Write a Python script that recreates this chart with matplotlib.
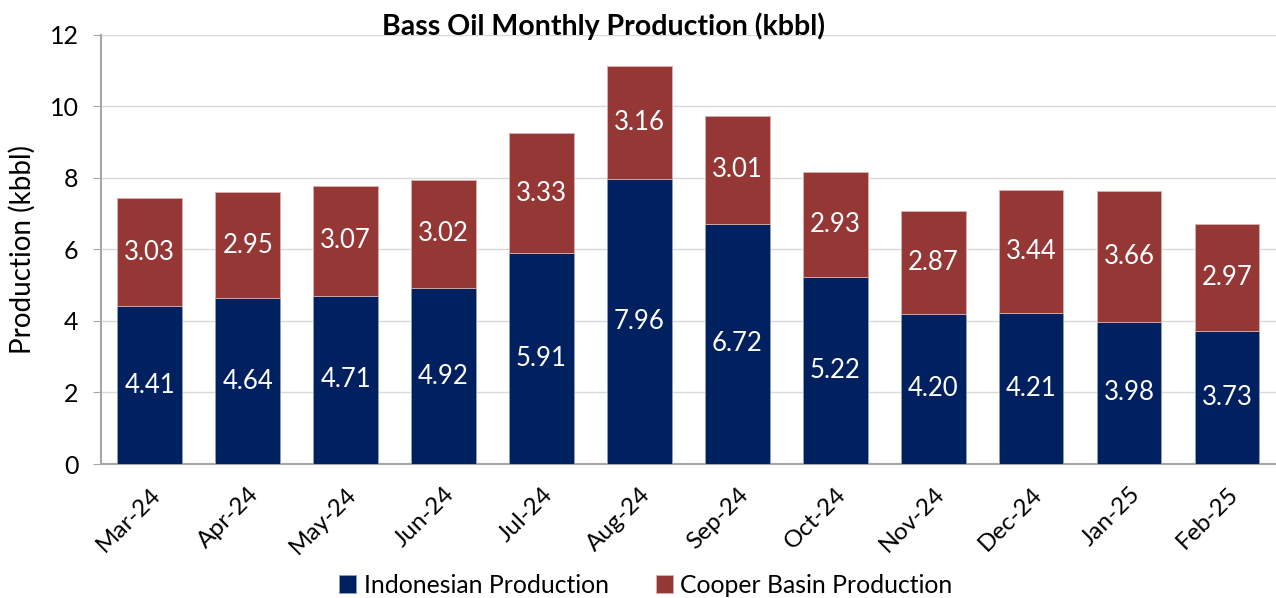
import numpy as np
import matplotlib.pyplot as plt

months = ["Mar-24", "Apr-24", "May-24", "Jun-24", "Jul-24", "Aug-24",
          "Sep-24", "Oct-24", "Nov-24", "Dec-24", "Jan-25", "Feb-25"]
indonesian = [4.41, 4.64, 4.71, 4.92, 5.91, 7.96, 6.72, 5.22, 4.20, 4.21, 3.98, 3.73]
cooper = [3.03, 2.95, 3.07, 3.02, 3.33, 3.16, 3.01, 2.93, 2.87, 3.44, 3.66, 2.97]

NAVY = "#002060"
RED = "#953735"

plt.rcParams['font.family'] = ['Lato', 'DejaVu Sans']

fig = plt.figure(figsize=(12.76, 5.98), dpi=100)
ax = fig.add_axes([0.079, 0.224, 0.921, 0.718])

x = np.arange(len(months))
b1 = ax.bar(x, indonesian, width=0.66, color=NAVY, edgecolor="#8ea0c0", linewidth=0.6, zorder=3,
            label="Indonesian Production")
b2 = ax.bar(x, cooper, width=0.66, bottom=indonesian, color=RED, edgecolor="#d9b0b0", linewidth=0.6,
            zorder=3, label="Cooper Basin Production")
ax.bar_label(b1, labels=[f"{v:.2f}" for v in indonesian], label_type="center", color="white", fontsize=18.5)
ax.bar_label(b2, labels=[f"{v:.2f}" for v in cooper], label_type="center", color="white", fontsize=18.5)

ax.set_xlim(-0.5, 11.5)
ax.set_ylim(0, 12)
ax.set_yticks(range(0, 13, 2))
ax.set_xticks(x)
ax.set_xticklabels(months, rotation=45, ha="right", rotation_mode="anchor", fontsize=17.5)
ax.tick_params(axis="y", labelsize=18, length=6, color="#a6a6a6", pad=10)
ax.tick_params(axis="x", length=0, pad=14)
ax.grid(axis="y", color="#d9d9d9", linewidth=1, zorder=0)
for s in ["top", "right"]:
    ax.spines[s].set_visible(False)
for s in ["left", "bottom"]:
    ax.spines[s].set_color("#a6a6a6")
    ax.spines[s].set_linewidth(1.5)
ax.set_ylabel("Production (kbbl)", fontsize=20, labelpad=10)

fig.text(0.473, 0.956, "Bass Oil Monthly Production (kbbl)", ha="center", va="center",
         fontsize=20.5, fontweight="bold")
fig.legend(handles=[b1, b2], loc="lower center", bbox_to_anchor=(0.506, -0.035), ncol=2, frameon=False,
           fontsize=17.8, handlelength=0.7, handleheight=0.7, columnspacing=1.9, handletextpad=0.3)

fig.savefig("out.png", dpi=100)
